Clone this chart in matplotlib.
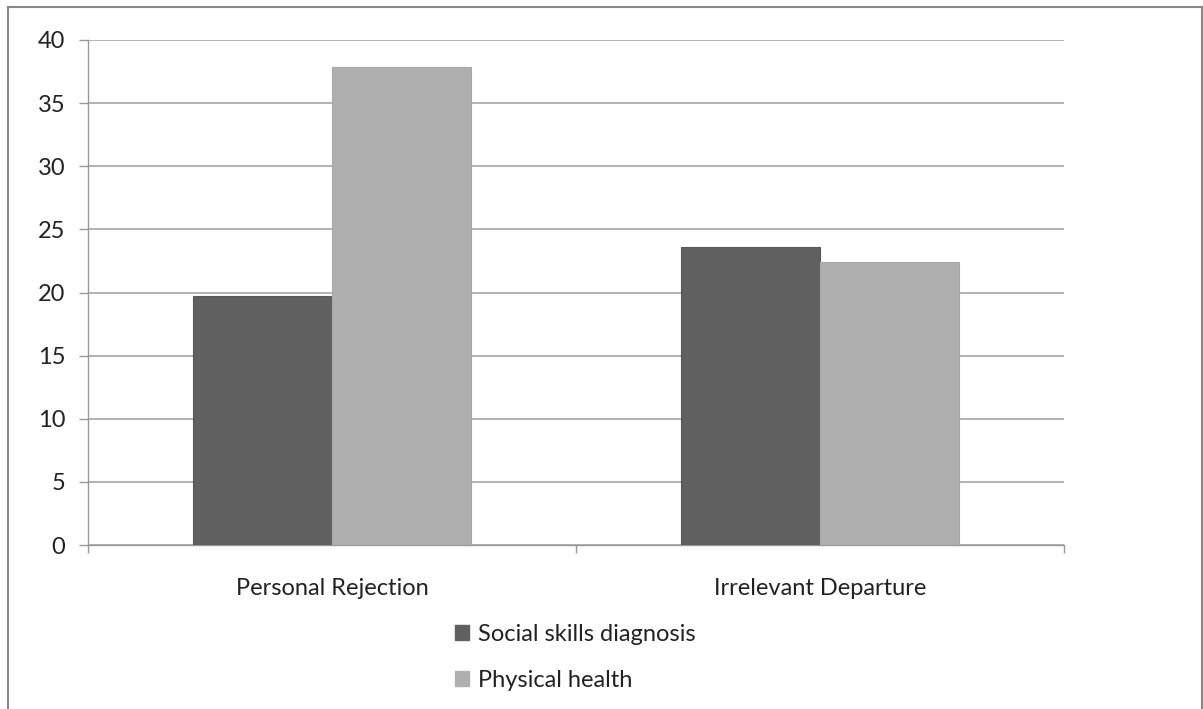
import matplotlib
matplotlib.use("Agg")
import matplotlib.pyplot as plt
from matplotlib.lines import Line2D
from matplotlib.patches import Patch
import numpy as np

categories = ["Personal Rejection", "Irrelevant Departure"]
social_skills = [19.7, 23.6]
physical_health = [37.9, 22.4]
series_names = ["Social skills diagnosis", "Physical health"]
colors = ["#606060", "#afafaf"]

plt.rcParams['font.family'] = ['Lato', 'DejaVu Sans']

W, H = 1203, 709
fig = plt.figure(figsize=(W / 100, H / 100), dpi=100)
ax = fig.add_axes([88 / W, 1 - 545 / H, (1064 - 88) / W, (545 - 40) / H])

x = np.arange(len(categories))
bw = 1 / 3.5
ax.bar(x - bw / 2, social_skills, bw, color=colors[0], edgecolor="#585858", linewidth=0.8, zorder=3)
ax.bar(x + bw / 2, physical_health, bw, color=colors[1], edgecolor="#a8a8a8", linewidth=0.8, zorder=3)

ax.set_xlim(-0.5, 1.5)
ax.set_ylim(0, 40)
ax.set_yticks(range(0, 41, 5))
ax.set_xticks([-0.5, 0.5, 1.5], minor=False)
ax.set_xticklabels([])
ax.set_xticks(x, minor=True)
ax.set_xticklabels(categories, minor=True)
ax.tick_params(axis='x', which='minor', length=0, pad=24, labelsize=17, labelcolor="#222222")
ax.tick_params(axis='x', which='major', length=6, color="#999999", width=1)
ax.tick_params(axis='y', length=6.5, color="#999999", width=1, labelsize=17, pad=10, labelcolor="#222222")
ax.grid(axis='y', color="#a6a6a6", linewidth=1.2, zorder=0)
for s in ['top', 'right']:
    ax.spines[s].set_visible(False)
for s in ['left', 'bottom']:
    ax.spines[s].set_color("#999999")
    ax.spines[s].set_linewidth(1)

handles = [Patch(facecolor=c, edgecolor=c) for c in colors]
fig.legend(handles, series_names, loc='upper left', bbox_to_anchor=(434 / W, 1 - 603 / H),
           frameon=False, fontsize=17, handlelength=0.6, handleheight=0.6,
           handletextpad=0.35, labelspacing=1.05, labelcolor="#222222")

# outer chart frame
fig.add_artist(Line2D([8 / W, 8 / W], [0, 1 - 7 / H], color="#888888", linewidth=1.5))
fig.add_artist(Line2D([8 / W, 1201.5 / W], [1 - 7 / H, 1 - 7 / H], color="#888888", linewidth=1.5))
fig.add_artist(Line2D([1201.5 / W, 1201.5 / W], [0, 1 - 7 / H], color="#888888", linewidth=1.5))

fig.savefig("out.png", dpi=100)
